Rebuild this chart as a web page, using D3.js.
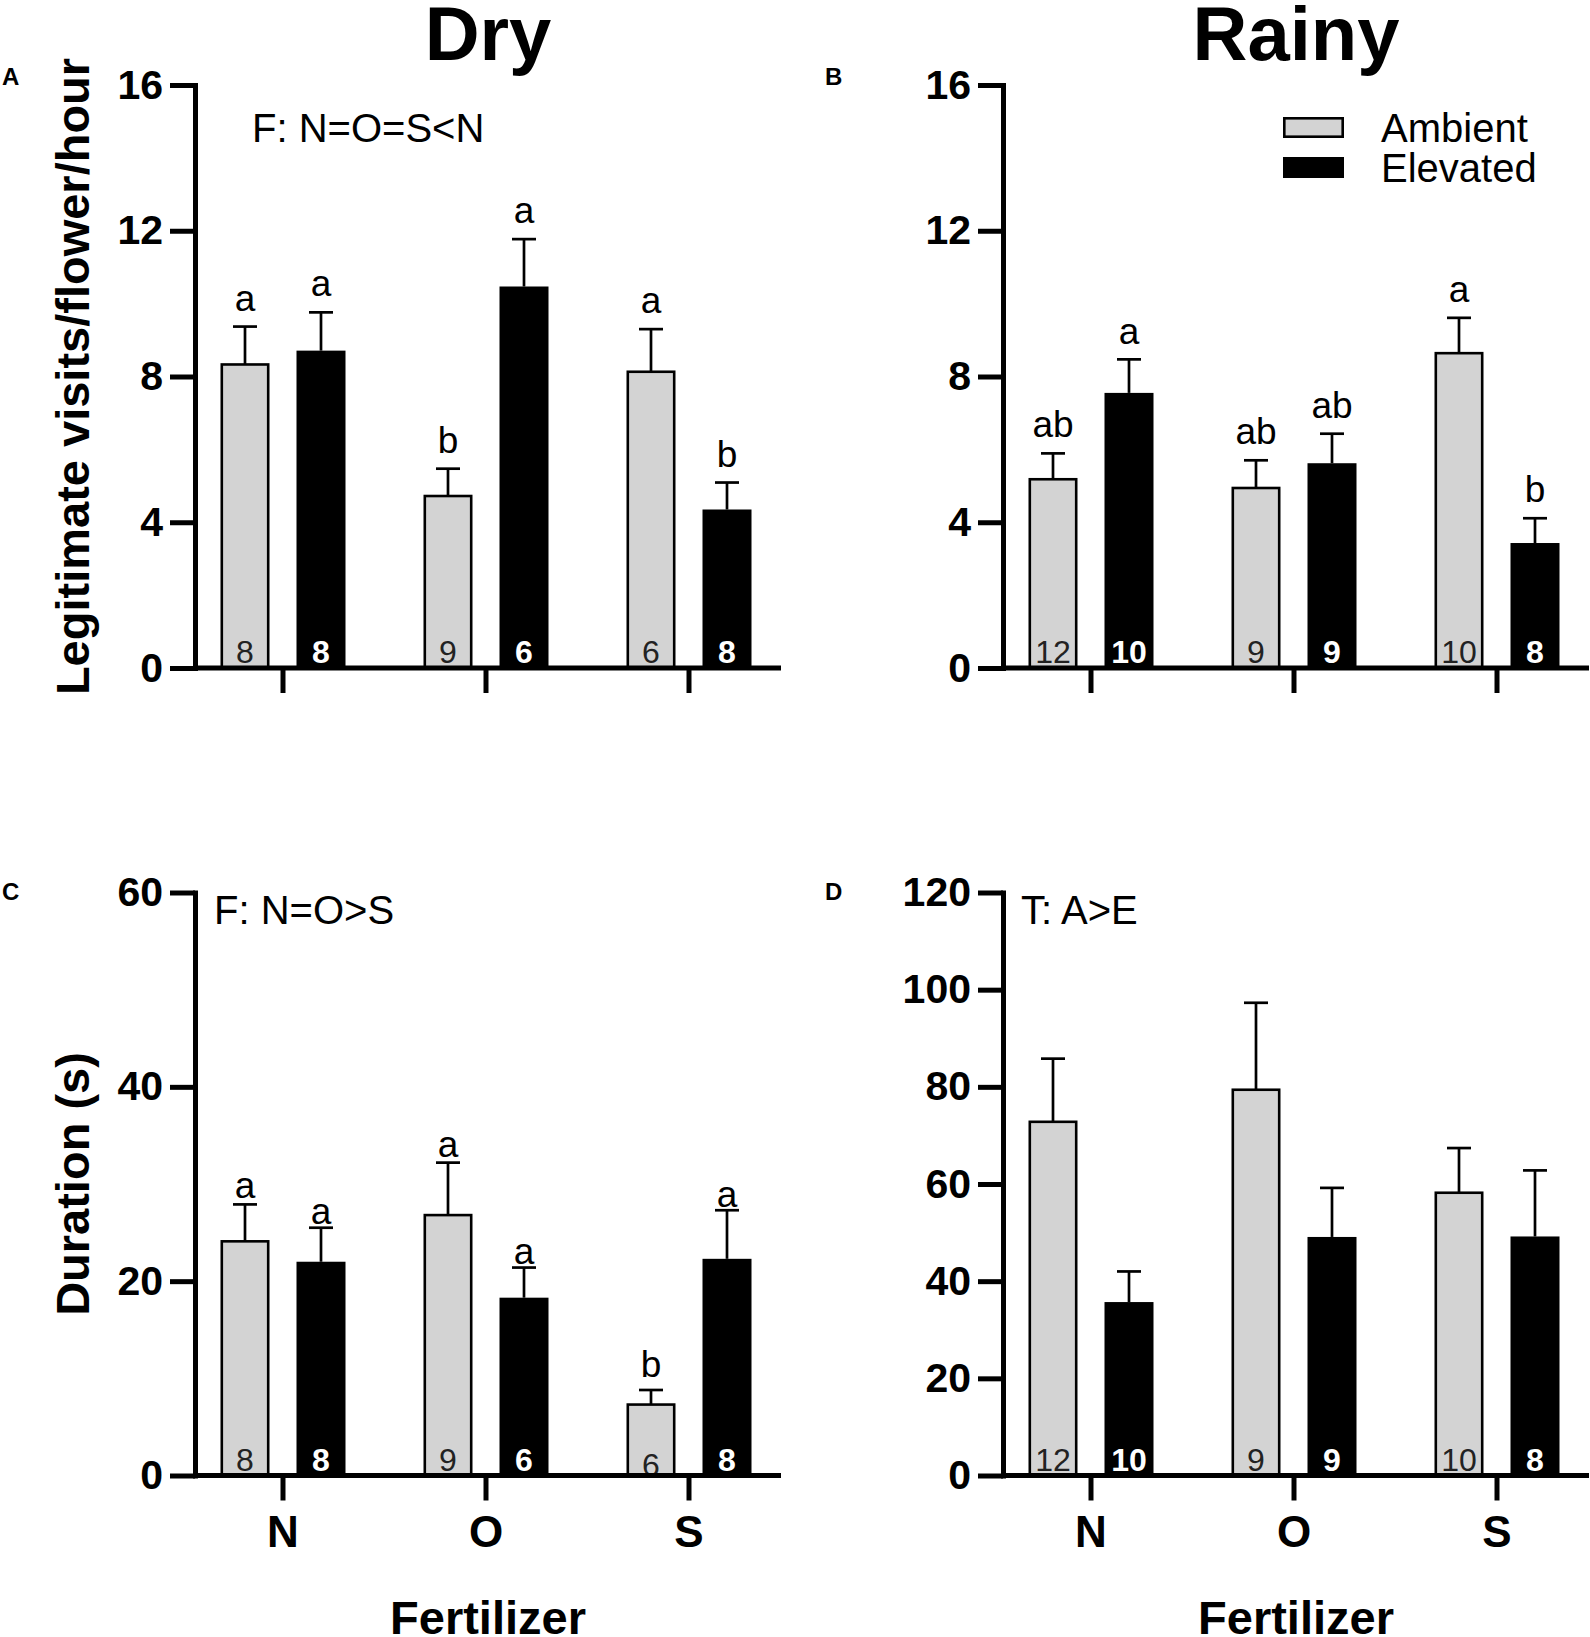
<!DOCTYPE html>
<html>
<head>
<meta charset="utf-8">
<script src="https://cdn.jsdelivr.net/npm/d3@7"></script>
<style>
  body { margin: 0; background: #fff; }
  text { font-family: Arial, "Liberation Sans", sans-serif; }
</style>
</head>
<body>
<svg id="chart"></svg>
<script>
const groups = ["N", "O", "S"];
const treatments = ["Ambient", "Elevated"];

// bar order everywhere: N-Ambient, N-Elevated, O-Ambient, O-Elevated, S-Ambient, S-Elevated
const visitsDryMean = [8.33, 8.71, 4.72, 10.47, 8.13, 4.35];
const visitsDryUpper = [9.37, 9.76, 5.47, 11.77, 9.30, 5.09];
const visitsDryLetters = ["a", "a", "b", "a", "a", "b"];

const visitsRainyMean = [5.18, 7.55, 4.94, 5.62, 8.64, 3.43];
const visitsRainyUpper = [5.89, 8.47, 5.70, 6.43, 9.61, 4.11];
const visitsRainyLetters = ["ab", "a", "ab", "ab", "a", "b"];

const durationDryMean = [24.1, 22.0, 26.8, 18.3, 7.3, 22.3];
const durationDryUpper = [27.9, 25.5, 32.2, 21.4, 8.8, 27.3];
const durationDryLetters = ["a", "a", "a", "a", "b", "a"];

const durationRainyMean = [72.8, 35.7, 79.4, 49.1, 58.2, 49.2];
const durationRainyUpper = [85.8, 42.0, 97.3, 59.2, 67.4, 62.8];

const dryN = [8, 8, 9, 6, 6, 8];
const rainyN = [12, 10, 9, 9, 10, 8];

const visitsTicks = [0, 4, 8, 12, 16];
const durationDryTicks = [0, 20, 40, 60];
const durationRainyTicks = [0, 20, 40, 60, 80, 100, 120];

const width = 1590, height = 1637;
const svg = d3.select("#chart").attr("width", width).attr("height", height);
const FONT = "Arial, 'Liberation Sans', sans-serif";

const plotW = 586, plotH = 583;

const panels = [
    { id: "A", left: 195, top: 85, mean: visitsDryMean, upper: visitsDryUpper, letters: visitsDryLetters, n: dryN,
      ticks: visitsTicks, note: "F: N=O=S<N", noteX: 57, noteY: 57, gaps: [16, 16, 16, 16, 16, 16],
      yTitle: "Legitimate visits/flower/hour", labelDy: 0 },
    { id: "B", left: 1003, top: 85, mean: visitsRainyMean, upper: visitsRainyUpper, letters: visitsRainyLetters, n: rainyN,
      ticks: visitsTicks, gaps: [16, 15, 16, 16, 16, 16], legend: true, labelDy: 0 },
    { id: "C", left: 195, top: 892.5, mean: durationDryMean, upper: durationDryUpper, letters: durationDryLetters, n: dryN,
      ticks: durationDryTicks, note: "F: N=O>S", noteX: 19, noteY: 31, gaps: [6, 4, 6, 4, 13, 3], countDy: [0, 0, 0, 0, 5, 0],
      yTitle: "Duration (s)", xLabels: true, labelDy: 7 },
    { id: "D", left: 1003, top: 892.5, mean: durationRainyMean, upper: durationRainyUpper, letters: null, n: rainyN,
      ticks: durationRainyTicks, note: "T: A>E", noteX: 18, noteY: 31, xLabels: true, labelDy: 7 }
];

// column titles
svg.append("text").attr("x", 195 + plotW / 2).attr("y", 60).attr("text-anchor", "middle")
    .attr("font-size", 76).attr("font-weight", "bold").text("Dry");
svg.append("text").attr("x", 1003 + plotW / 2).attr("y", 60).attr("text-anchor", "middle")
    .attr("font-size", 76).attr("font-weight", "bold").text("Rainy");

panels.forEach(p => {
    const g = svg.append("g").attr("transform", `translate(${p.left},${p.top})`);
    const y = d3.scaleLinear().domain([0, d3.max(p.ticks)]).range([plotH, 0]);
    const x0 = d3.scaleBand().domain(groups).range([-13.5, 595.5]);
    const x1 = d3.scaleBand().domain(treatments).range([39, 164]).paddingInner(0.3553);

    const rows = p.mean.map((m, i) => ({
        group: groups[Math.floor(i / 2)],
        trt: treatments[i % 2],
        mean: m,
        upper: p.upper[i],
        letter: p.letters ? p.letters[i] : null,
        n: p.n[i],
        gap: p.gaps ? p.gaps[i] : 0,
        cdy: p.countDy ? p.countDy[i] : 0
    }));
    const cx = d => x0(d.group) + x1(d.trt) + x1.bandwidth() / 2;

    // error bars (upper only)
    const err = g.append("g").attr("stroke", "#000").attr("stroke-width", 2.7);
    err.selectAll("line.v").data(rows).join("line").attr("class", "v")
        .attr("x1", cx).attr("x2", cx).attr("y1", d => y(d.mean)).attr("y2", d => y(d.upper));
    err.selectAll("line.c").data(rows).join("line").attr("class", "c")
        .attr("x1", d => cx(d) - 12).attr("x2", d => cx(d) + 12)
        .attr("y1", d => y(d.upper)).attr("y2", d => y(d.upper));

    // bars
    g.append("g").selectAll("rect").data(rows).join("rect")
        .attr("x", d => x0(d.group) + x1(d.trt) + (d.trt === "Ambient" ? 1.3 : 0))
        .attr("width", d => x1.bandwidth() - (d.trt === "Ambient" ? 2.6 : 0))
        .attr("y", d => y(d.mean))
        .attr("height", d => y(0) - y(d.mean))
        .attr("fill", d => d.trt === "Ambient" ? "#d3d3d3" : "#000")
        .attr("stroke", "#000")
        .attr("stroke-width", d => d.trt === "Ambient" ? 2.6 : 0);

    // sample sizes
    g.append("g").selectAll("text").data(rows).join("text")
        .attr("x", cx).attr("y", d => y(0) - 5 + d.cdy)
        .attr("text-anchor", "middle").attr("font-size", 32)
        .attr("font-weight", d => d.trt === "Ambient" ? "normal" : "bold")
        .attr("fill", d => d.trt === "Ambient" ? "#222" : "#fff")
        .text(d => d.n);

    // significance letters
    if (p.letters) {
        g.append("g").selectAll("text").data(rows).join("text")
            .attr("x", cx).attr("y", d => y(d.upper) - d.gap)
            .attr("text-anchor", "middle").attr("font-size", 37)
            .text(d => d.letter);
    }

    // y axis
    const yAxis = g.append("g")
        .call(d3.axisLeft(y).tickValues(p.ticks).tickSize(25).tickSizeOuter(0).tickPadding(7));
    yAxis.select(".domain").attr("stroke-width", 5).attr("stroke-linecap", "square");
    yAxis.selectAll(".tick line").attr("stroke-width", 5);
    yAxis.selectAll(".tick text").attr("font-size", 41).attr("font-weight", "bold")
        .attr("font-family", FONT).attr("fill", "#000");

    // x axis
    const xAxis = g.append("g").attr("transform", `translate(0,${plotH})`)
        .call(d3.axisBottom(x0).tickSize(25).tickSizeOuter(0).tickPadding(15)
            .tickFormat(p.xLabels ? d => d : () => ""));
    xAxis.select(".domain").remove();
    xAxis.selectAll(".tick line").attr("stroke-width", 5);
    xAxis.selectAll(".tick text").attr("font-size", 44).attr("font-weight", "bold")
        .attr("font-family", FONT).attr("fill", "#000");
    g.append("line").attr("x1", 0).attr("x2", plotW).attr("y1", plotH).attr("y2", plotH)
        .attr("stroke", "#000").attr("stroke-width", 5);

    if (p.xLabels) {
        g.append("text").attr("x", plotW / 2).attr("y", 741).attr("text-anchor", "middle")
            .attr("font-size", 47).attr("font-weight", "bold").text("Fertilizer");
    }

    if (p.yTitle) {
        g.append("text")
            .attr("transform", `translate(${89 - p.left},${plotH / 2}) rotate(-90)`)
            .attr("text-anchor", "middle").attr("font-size", 47).attr("font-weight", "bold")
            .text(p.yTitle);
    }

    if (p.note) {
        g.append("text").attr("x", p.noteX).attr("y", p.noteY).attr("font-size", 40).text(p.note);
    }

    // panel letter
    svg.append("text").attr("x", p.left < 500 ? 2 : 825).attr("y", p.top + p.labelDy)
        .attr("font-size", 24).attr("font-weight", "bold").text(p.id);

    if (p.legend) {
        const lg = g.append("g").attr("transform", "translate(280,32)");
        lg.selectAll("rect").data(treatments).join("rect")
            .attr("x", d => d === "Ambient" ? 1.3 : 0)
            .attr("y", (d, i) => i * 40 + (d === "Ambient" ? 1.3 : 0))
            .attr("width", d => d === "Ambient" ? 58.4 : 61)
            .attr("height", d => d === "Ambient" ? 18.4 : 21)
            .attr("fill", d => d === "Ambient" ? "#d3d3d3" : "#000")
            .attr("stroke", "#000").attr("stroke-width", d => d === "Ambient" ? 2.6 : 0);
        lg.selectAll("text").data(treatments).join("text")
            .attr("x", 98).attr("y", (d, i) => 25 + i * 40)
            .attr("font-size", 40).text(d => d);
    }
});
</script>
</body>
</html>
